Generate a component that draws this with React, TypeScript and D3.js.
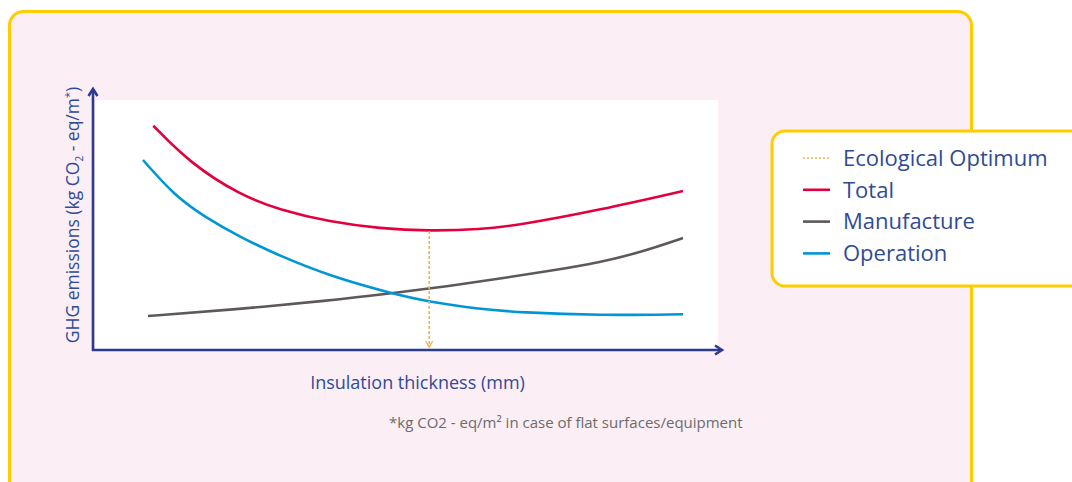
import React from "react";
import * as d3 from "d3";

const totalSeries: [number, number][] = [
  [9.65, 89.7], [15.5, 74.8], [23.5, 62], [29.9, 56],
  [37.9, 51.2], [45.9, 48.6], [53.8, 47.6], [61.9, 48.2], [68.3, 50], [81.1, 56], [94.4, 63.6],
];
const operationSeries: [number, number][] = [
  [8.0, 76], [13.1, 61.6], [17.9, 53.2], [23.5, 45.2], [29.9, 37.6],
  [37.9, 29.6], [47.5, 22.8], [53.9, 19.2], [61.9, 16.4], [68.3, 15], [81.1, 13.8], [94.4, 14.3],
];
const manufactureSeries: [number, number][] = [
  [8.8, 13.6], [21.9, 16], [37.9, 19.8], [47.8, 22.7], [57.1, 25.6], [65.1, 28.6],
  [73.1, 31.6], [81.1, 35], [87.5, 39], [94.4, 44.8],
];
const optimum = { x: 53.8, y: 47.6 };
const legendItems = [
  { label: "Ecological Optimum", color: "#F5B24C", dashed: true },
  { label: "Total", color: "#E2003D", dashed: false },
  { label: "Manufacture", color: "#5E5958", dashed: false },
  { label: "Operation", color: "#0096D6", dashed: false },
];
const xLabel = "Insulation thickness (mm)";
const footnote = "*kg CO2 - eq/m² in case of flat surfaces/equipment";

const W = 1072, H = 482;
const left = 93, right = 718, top = 100, bottom = 350;
const x = d3.scaleLinear().domain([0, 100]).range([left, right]);
const y = d3.scaleLinear().domain([0, 100]).range([bottom, top]);
const line = d3.line<[number, number]>().x(d => x(d[0])).y(d => y(d[1])).curve(d3.curveBasis);

const navy = "#2E3B8C";
const textBlue = "#2F4B95";
const font = "'Open Sans', sans-serif";

export default function App() {
  const ox = x(optimum.x);
  return (
    <svg width={W} height={H} style={{ position: "absolute", left: 0, top: 0 }} fontFamily={font}>
      <rect x={0} y={0} width={W} height={H} fill="#fff" />
      <rect x={9.5} y={11.5} width={962} height={500} rx={14} fill="#FCEEF5" stroke="#FFCC00" strokeWidth={3} />
      <rect x={95} y={top} width={right - 95} height={bottom - top} fill="#fff" />
      {/* series */}
      <path d={line(manufactureSeries) || ""} fill="none" stroke="#5E5958" strokeWidth={2.6} />
      <path d={line(operationSeries) || ""} fill="none" stroke="#0096D6" strokeWidth={2.6} />
      <path d={line(totalSeries) || ""} fill="none" stroke="#E2003D" strokeWidth={2.6} />
      {/* optimum */}
      <line x1={ox} x2={ox} y1={y(optimum.y)} y2={bottom - 3} stroke="#F5B24C" strokeWidth={1.6} strokeDasharray="3,2" />
      <path d={`M${ox - 3.5},${bottom - 9} L${ox},${bottom - 3} L${ox + 3.5},${bottom - 9}`} fill="none" stroke="#F5B24C" strokeWidth={1.4} />
      {/* axes */}
      <line x1={left} x2={left} y1={bottom + 1} y2={90} stroke={navy} strokeWidth={2.6} />
      <path d={`M${left - 4.5},${96} L${left},${89} L${left + 4.5},${96}`} fill="none" stroke={navy} strokeWidth={2.6} />
      <line x1={left - 1} x2={721} y1={bottom} y2={bottom} stroke={navy} strokeWidth={2.6} />
      <path d={`M${715},${bottom - 4.5} L${722},${bottom} L${715},${bottom + 4.5}`} fill="none" stroke={navy} strokeWidth={2.6} />
      {/* labels */}
      <text transform={`translate(79,215) rotate(-90)`} textAnchor="middle" fontSize={17.5} fill={textBlue}>
        GHG emissions (kg CO<tspan fontSize={10} dy={4}>2</tspan><tspan dy={-4}> - eq/m</tspan><tspan fontSize={11} dy={-6}>*</tspan><tspan dy={6}>)</tspan>
      </text>
      <text x={417.5} y={389} textAnchor="middle" fontSize={18} fill={textBlue}>{xLabel}</text>
      <text x={389} y={428} fontSize={15} fill="#6B6B6B">{footnote}</text>
      {/* legend */}
      <rect x={772} y={131} width={330} height={155} rx={13} fill="#fff" stroke="#FFCC00" strokeWidth={3} />
      {legendItems.map((it, i) => {
        const ly = 158 + i * 31.8;
        return (
          <g key={it.label}>
            <line x1={803} x2={830} y1={ly} y2={ly} stroke={it.color} strokeWidth={it.dashed ? 1.6 : 2.6} strokeDasharray={it.dashed ? "2,2" : undefined} />
            <text x={843} y={ly} dy="0.35em" fontSize={22} fill={textBlue}>{it.label}</text>
          </g>
        );
      })}
    </svg>
  );
}
